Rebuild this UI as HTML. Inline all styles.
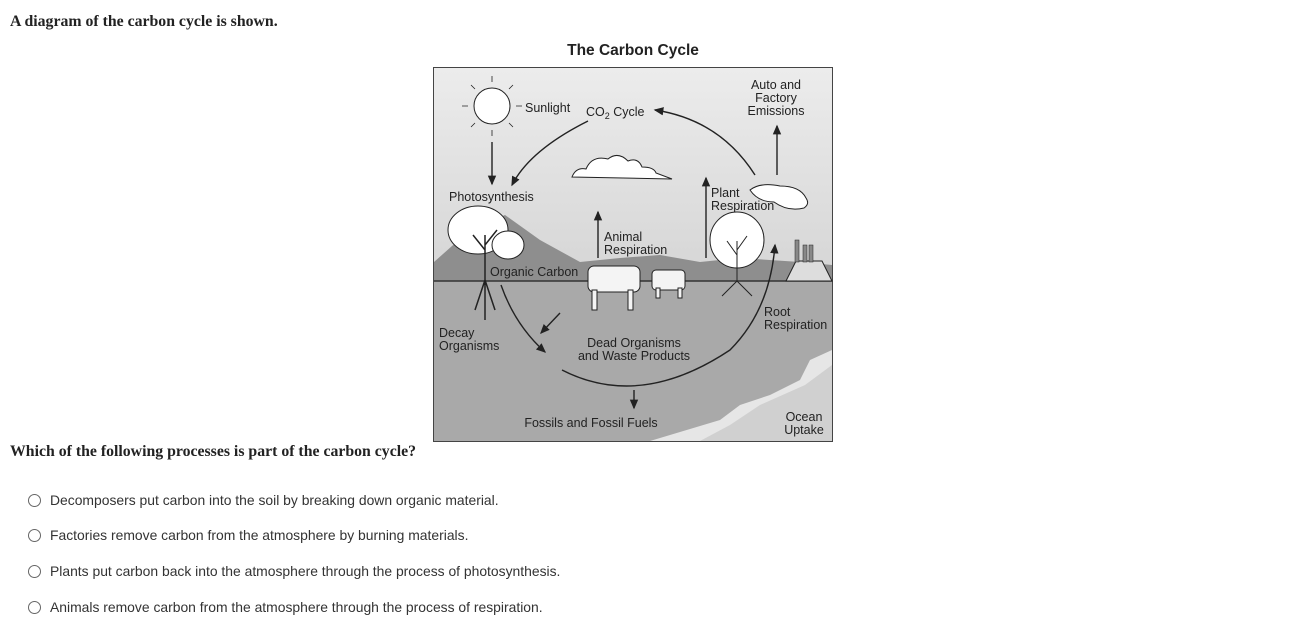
<!DOCTYPE html>
<html><head><style>
body{margin:0;width:1291px;height:636px;background:#fff;position:relative;overflow:hidden;font-family:"Liberation Sans",sans-serif}
.q{position:absolute;left:10px;font-family:"Liberation Serif",serif;font-weight:bold;font-size:15.8px;color:#222}
.o{position:absolute;left:28px;font-size:13.9px;color:#333}
.o span{display:inline-block;width:11px;height:11px;border:1px solid #666;border-radius:50%;vertical-align:-2px;margin-right:9px}
</style></head><body>
<div class="q" style="top:13px">A diagram of the carbon cycle is shown.</div>
<div class="q" style="top:443px">Which of the following processes is part of the carbon cycle?</div>
<div class="o" style="top:492px"><span></span>Decomposers put carbon into the soil by breaking down organic material.</div>
<div class="o" style="top:527px"><span></span>Factories remove carbon from the atmosphere by burning materials.</div>
<div class="o" style="top:563px"><span></span>Plants put carbon back into the atmosphere through the process of photosynthesis.</div>
<div class="o" style="top:599px"><span></span>Animals remove carbon from the atmosphere through the process of respiration.</div>
<svg width="1291" height="636" style="position:absolute;left:0;top:0" font-family="Liberation Sans, sans-serif">
<defs><linearGradient id="sky" x1="0" y1="0" x2="0" y2="1"><stop offset="0" stop-color="#ececec"/><stop offset="1" stop-color="#c4c4c4"/></linearGradient>
<marker id="a" markerWidth="8" markerHeight="8" refX="6" refY="4" orient="auto"><path d="M0,1 L7,4 L0,7z" fill="#222"/></marker></defs>
<text x="633" y="55" font-size="15.5" font-weight="bold" text-anchor="middle" fill="#222">The Carbon Cycle</text>
<rect x="433.5" y="67.5" width="399" height="374" fill="url(#sky)" stroke="#444"/>
<path d="M434,262 L470,230 L505,215 L540,240 L580,262 L620,258 L660,255 L700,262 L740,258 L800,262 L832,265 L832,281 L434,281z" fill="#8e8e8e"/>
<rect x="434" y="281" width="398" height="160" fill="#a9a9a9"/>
<line x1="434" y1="281" x2="832" y2="281" stroke="#333" stroke-width="1.5"/>
<path d="M832,350 L810,360 L800,380 L770,395 L740,405 L720,420 L680,432 L650,441 L832,441z" fill="#e6e6e6"/>
<path d="M832,365 L805,385 L760,405 L730,425 L700,441 L832,441z" fill="#d0d0d0"/>
<circle cx="492" cy="106" r="18" fill="#fff" stroke="#222"/>
<g stroke="#222" stroke-width="0.8"><path d="M492,82v-6M492,130v6M468,106h-6M516,106h6M475,89l-4,-4M509,89l4,-4M475,123l-4,4M509,123l4,4"/></g>
<path d="M572,177 q4,-10 14,-8 q6,-14 22,-10 q10,-8 20,2 q10,-4 14,6 q12,0 14,6 l16,6 z" fill="#fff" stroke="#222"/>
<path d="M750,190 q10,-8 30,-4 q20,0 26,12 q4,6 -2,10 q-16,4 -30,-6 q-16,0 -24,-12z" fill="#fff" stroke="#222"/>
<path d="M786,281 l10,-20 h26 l10,20z" fill="#ddd" stroke="#222"/>
<rect x="795" y="240" width="4" height="22" fill="#888" stroke="#222" stroke-width="0.5"/>
<rect x="803" y="245" width="4" height="17" fill="#888" stroke="#222" stroke-width="0.5"/>
<rect x="809" y="245" width="4" height="17" fill="#888" stroke="#222" stroke-width="0.5"/>
<ellipse cx="478" cy="230" rx="30" ry="24" fill="#fff" stroke="#222"/>
<ellipse cx="508" cy="245" rx="16" ry="14" fill="#fff" stroke="#222"/>
<path d="M485,280 v-45 M485,250 l-12,-15 M485,245 l12,-15 M485,280 l-10,30 M485,280 l10,30 M485,280 v40" stroke="#222" fill="none" stroke-width="1.5"/>
<ellipse cx="737" cy="240" rx="27" ry="28" fill="#fff" stroke="#222"/>
<path d="M737,281 v-40 M737,255 l-10,-14 M737,250 l10,-14 M737,281 l-15,15 M737,281 l15,15" stroke="#222" fill="none"/>
<g fill="#f4f4f4" stroke="#222"><rect x="588" y="266" width="52" height="26" rx="6"/><rect x="592" y="290" width="5" height="20"/><rect x="628" y="290" width="5" height="20"/><rect x="652" y="270" width="33" height="20" rx="4"/><rect x="656" y="288" width="4" height="10"/><rect x="678" y="288" width="4" height="10"/></g>
<g fill="none" stroke="#222" stroke-width="1.4">
<path d="M588,121 Q530,150 512,185" marker-end="url(#a)"/>
<path d="M755,175 Q720,120 655,110" marker-end="url(#a)"/>
<path d="M501,285 Q515,325 545,352" marker-end="url(#a)"/>
<path d="M562,370 Q640,410 730,350 Q770,310 775,245" marker-end="url(#a)"/>
<path d="M492,142 V184" marker-end="url(#a)"/>
<path d="M598,258 V212" marker-end="url(#a)"/>
<path d="M706,258 V178" marker-end="url(#a)"/>
<path d="M777,175 V126" marker-end="url(#a)"/>
<path d="M560,313 L541,333" marker-end="url(#a)"/>
<path d="M634,390 V408" marker-end="url(#a)"/>
</g>
<g font-size="12.5" fill="#222">
<text x="525" y="112">Sunlight</text>
<text x="586" y="116">CO<tspan font-size="9" dy="3">2</tspan><tspan dy="-3"> Cycle</tspan></text>
<text x="776" y="89" text-anchor="middle">Auto and</text><text x="776" y="102" text-anchor="middle">Factory</text><text x="776" y="115" text-anchor="middle">Emissions</text>
<text x="449" y="201">Photosynthesis</text>
<text x="711" y="197">Plant</text><text x="711" y="210">Respiration</text>
<text x="604" y="241">Animal</text><text x="604" y="254">Respiration</text>
<text x="490" y="276">Organic Carbon</text>
<text x="764" y="316">Root</text><text x="764" y="329">Respiration</text>
<text x="439" y="337">Decay</text><text x="439" y="350">Organisms</text>
<text x="634" y="347" text-anchor="middle">Dead Organisms</text><text x="634" y="360" text-anchor="middle">and Waste Products</text>
<text x="591" y="427" text-anchor="middle">Fossils and Fossil Fuels</text>
<text x="804" y="421" text-anchor="middle">Ocean</text><text x="804" y="434" text-anchor="middle">Uptake</text>
</g>
</svg>
</body></html>
